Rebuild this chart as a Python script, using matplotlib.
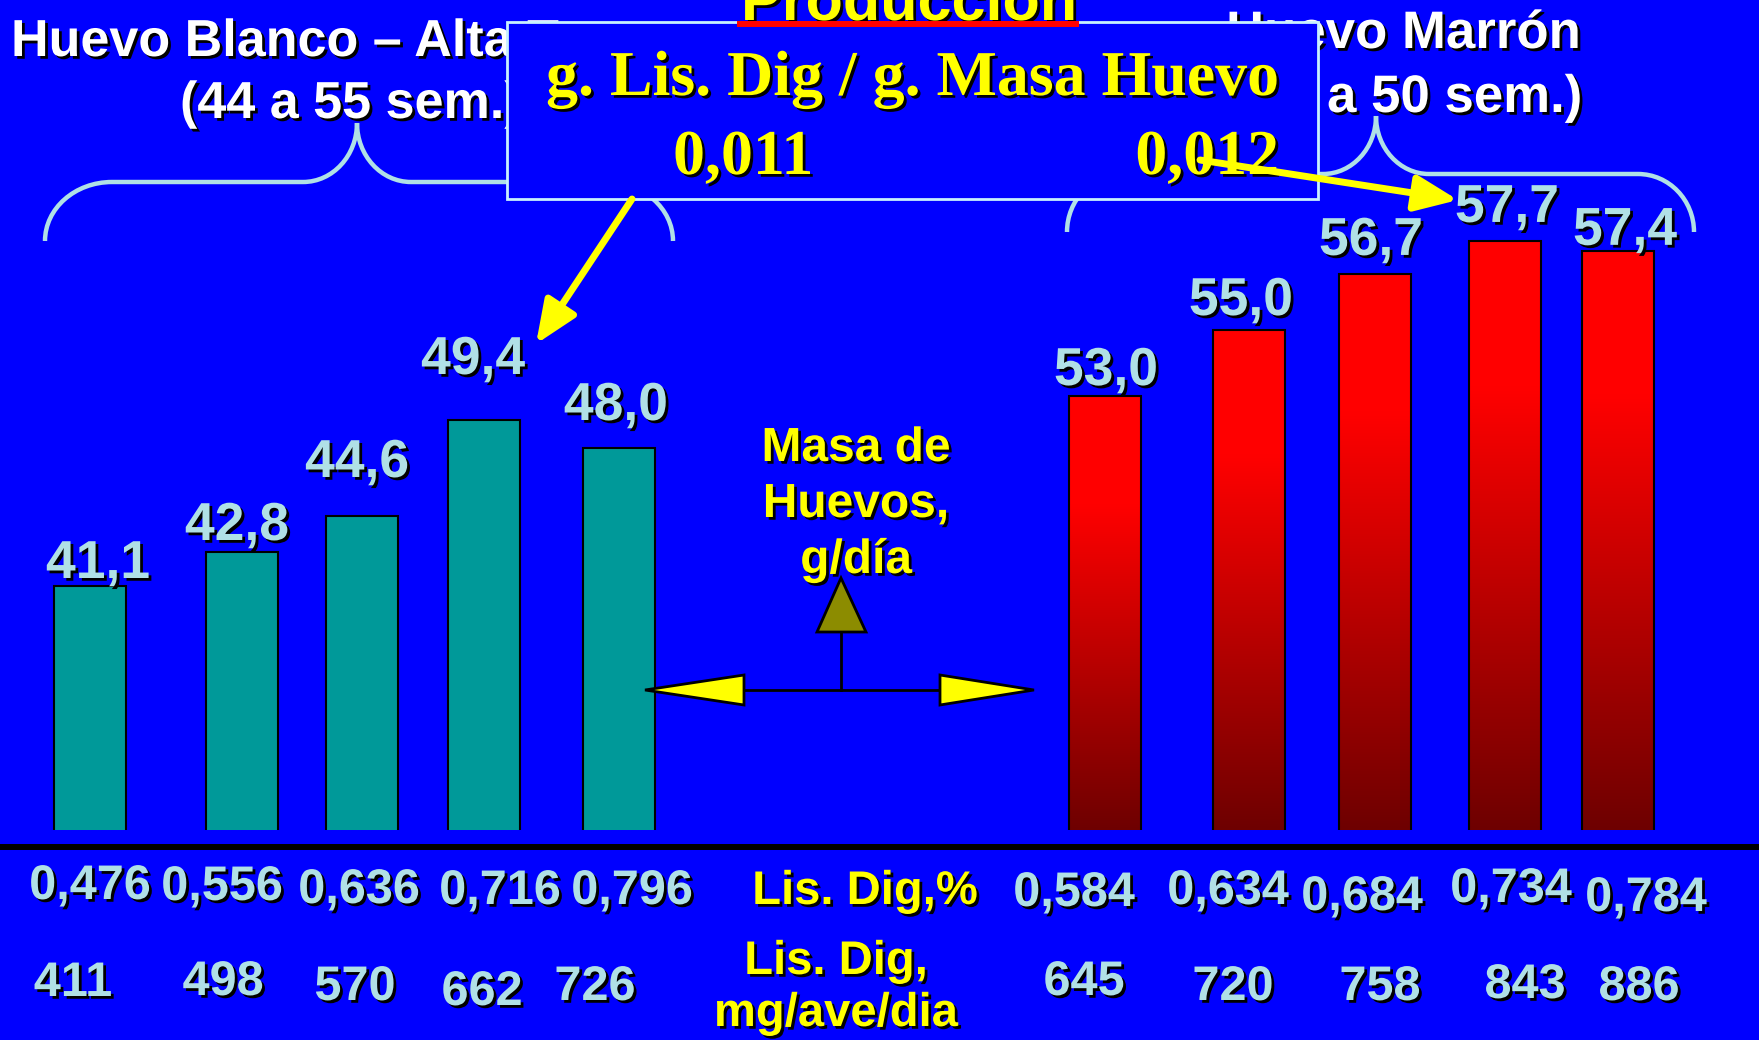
import numpy as np
import matplotlib
matplotlib.use("Agg")
import matplotlib.pyplot as plt
import matplotlib.patheffects as pe
from matplotlib.colors import LinearSegmentedColormap
from matplotlib.patches import Rectangle, Polygon, FancyArrowPatch, PathPatch
from matplotlib.path import Path

plt.rcParams['font.family'] = ['Liberation Sans', 'DejaVu Sans']
plt.rcParams['font.weight'] = 'bold'

# datos
masa_blanco = [41.1, 42.8, 44.6, 49.4, 48.0]      # g/dia, huevo blanco
masa_marron = [53.0, 55.0, 56.7, 57.7, 57.4]      # g/dia, huevo marron
lis_pct_blanco = [0.476, 0.556, 0.636, 0.716, 0.796]
lis_pct_marron = [0.584, 0.634, 0.684, 0.734, 0.784]
lis_mg_blanco = [411, 498, 570, 662, 726]
lis_mg_marron = [645, 720, 758, 843, 886]
ratio_lis_masa = [0.011, 0.012]

# layout (pixeles de la figura)
W, H = 1759, 1040
BASE = 830
x_blanco = [90, 242, 362, 484, 619]
x_marron = [1105, 1249, 1375, 1505, 1618]
bar_w = 72
off_blanco = [(8, 8), (-5, 12), (-5, 39), (-11, 46), (-3, 28)]
off_marron = [(1, 11), (-8, 15), (-4, 19), (2, 19), (7, 6)]
pct_x = [90, 222, 359, 500, 632, 1074, 1228, 1362, 1511, 1646]
pct_y = [899, 900, 903, 904, 904, 906, 904, 910, 902, 911]
mg_x = [73, 223, 355, 482, 595, 1084, 1233, 1380, 1525, 1639]
mg_y = [996, 995, 1000, 1005, 1000, 995, 1000, 1000, 998, 1000]

AZUL = '#0000FF'
CELESTE = '#B0E0E6'
AMARILLO = '#FFFF00'
sombra = [pe.withSimplePatchShadow(offset=(2, -2), shadow_rgbFace='black', alpha=1.0)]

def coma(v, d):
    return f"{v:.{d}f}".replace('.', ',')

fig = plt.figure(figsize=(W / 100, H / 100), dpi=100, facecolor=AZUL)

# dos escalas distintas, como en la diapositiva original
ax_w = fig.add_axes([0, (H - BASE) / H, 1, BASE / H], zorder=1)
ax_b = fig.add_axes([0, (H - BASE) / H, 1, BASE / H], zorder=1)
for a in (ax_w, ax_b):
    a.set_facecolor('none')
    a.axis('off')

ax_w.bar(x_blanco, masa_blanco, width=bar_w, bottom=0, color='#009999',
         edgecolor='black', linewidth=1.5, zorder=3)
ax_w.set_xlim(0, W)
ax_w.set_ylim(28.9, 28.9 + BASE / 20.0)

rojo = LinearSegmentedColormap.from_list('rojo', [(0, '#6E0000'), (0.75, '#FF0000'), (1, '#FF0000')])
grad = np.linspace(0, 1, 256).reshape(-1, 1)
bars = ax_b.bar(x_marron, masa_marron, width=bar_w, bottom=0, facecolor='none',
                edgecolor='black', linewidth=1.5, zorder=3)
yb0 = 39.85
for r in bars:
    x0 = r.get_x()
    im = ax_b.imshow(grad, extent=[x0, x0 + r.get_width(), yb0, r.get_height()],
                     origin='lower', cmap=rojo, aspect='auto', zorder=2)
    im.set_clip_path(r)
ax_b.set_xlim(0, W)
ax_b.set_ylim(yb0, yb0 + BASE / 33.0)

for a, xs, vals, offs in ((ax_w, x_blanco, masa_blanco, off_blanco),
                          (ax_b, x_marron, masa_marron, off_marron)):
    for x, v, (dx, dy) in zip(xs, vals, offs):
        a.annotate(coma(v, 1), (x, v), xytext=(dx, dy), textcoords='offset pixels',
                   ha='center', va='baseline', fontsize=38.5, color=CELESTE,
                   path_effects=sombra, zorder=5)

# capa de anotaciones en pixeles
ax = fig.add_axes([0, 0, 1, 1], zorder=2)
ax.set_xlim(0, W)
ax.set_ylim(H, 0)
ax.axis('off')

ax.plot([0, W], [847, 847], color='black', lw=4.3, solid_capstyle='butt')

# titulos
ax.text(11, 56, 'Huevo Blanco – Alta T', ha='left', va='baseline', fontsize=37.5,
        color='white', path_effects=sombra, zorder=2)
ax.text(180, 118, '(44 a 55 sem.)', ha='left', va='baseline', fontsize=37.5,
        color='white', path_effects=sombra, zorder=2)
ax.text(1580, 48, 'Huevo Marrón', ha='right', va='baseline', fontsize=38,
        color='white', path_effects=sombra, zorder=2)
ax.text(1582, 112, '(38 a 50 sem.)', ha='right', va='baseline', fontsize=38,
        color='white', path_effects=sombra, zorder=2)
ax.text(909, 20, 'Producción', ha='center', va='baseline', fontsize=44,
        color=AMARILLO, path_effects=sombra, zorder=2)

# llaves
k = 0.5523
def llave(x0, x1, xc, yh, yend, ytop, rx, rc):
    verts = [(x0, yend), (x0, yend - k * (yend - yh)), (x0 + rx - k * rx, yh), (x0 + rx, yh),
             (xc - rc, yh),
             (xc - rc + k * rc, yh), (xc, ytop + k * (yh - ytop)), (xc, ytop),
             (xc, ytop + k * (yh - ytop)), (xc + rc - k * rc, yh), (xc + rc, yh),
             (x1 - rx, yh),
             (x1 - rx + k * rx, yh), (x1, yend - k * (yend - yh)), (x1, yend)]
    codes = [Path.MOVETO, Path.CURVE4, Path.CURVE4, Path.CURVE4, Path.LINETO,
             Path.CURVE4, Path.CURVE4, Path.CURVE4, Path.CURVE4, Path.CURVE4, Path.CURVE4,
             Path.LINETO, Path.CURVE4, Path.CURVE4, Path.CURVE4]
    ax.add_patch(PathPatch(Path(verts, codes), facecolor='none', edgecolor=CELESTE,
                           lw=3.2, zorder=3))

llave(45, 673, 357, 182, 241, 123, 67, 54)
llave(1067, 1694, 1376, 174, 232, 116, 56, 53)

# recuadro
ax.add_patch(Rectangle((507, 22), 811, 177, facecolor=AZUL, edgecolor='#C8F0FF',
                       lw=2, zorder=4))
ax.plot([737, 1079], [24, 24], color='red', lw=4.3, solid_capstyle='butt', zorder=5)
serif = ['Liberation Serif', 'DejaVu Serif']
ax.text(912, 95, 'g. Lis. Dig / g. Masa Huevo', ha='center', va='baseline',
        fontsize=46, family=serif, color=AMARILLO, path_effects=sombra, zorder=5)
for xc, v in zip([743, 1207], ratio_lis_masa):
    ax.text(xc, 174, coma(v, 3), ha='center', va='baseline', fontsize=46, family=serif,
            color=AMARILLO, path_effects=sombra, zorder=5)

# flechas amarillas
for p0, p1 in (((632, 199), (536, 344)), ((1200, 160), (1458, 200))):
    ax.add_patch(FancyArrowPatch(p0, p1, arrowstyle='-|>,head_length=2.6,head_width=1.1',
                                 mutation_scale=10, color=AMARILLO, lw=5,
                                 shrinkA=0, shrinkB=0, zorder=6))

# cruz central
ax.plot([744, 940], [690, 690], color='black', lw=2, zorder=3)
ax.plot([841, 841], [690, 632], color='black', lw=2, zorder=3)
ax.add_patch(Polygon([(645, 690), (744, 675), (744, 705)], closed=True, facecolor=AMARILLO,
                     edgecolor='black', lw=2, zorder=4))
ax.add_patch(Polygon([(1034, 690), (940, 675), (940, 705)], closed=True, facecolor=AMARILLO,
                     edgecolor='black', lw=2, zorder=4))
ax.add_patch(Polygon([(841, 578), (817, 632), (866, 632)], closed=True, facecolor='#8C8C00',
                     edgecolor='black', lw=2, zorder=4))

for yb, t in zip([461, 517, 573], ['Masa de', 'Huevos,', 'g/día']):
    ax.text(856, yb, t, ha='center', va='baseline', fontsize=34.5, color=AMARILLO,
            path_effects=sombra, zorder=5)

# filas inferiores
for x, y, v in zip(pct_x, pct_y, lis_pct_blanco + lis_pct_marron):
    ax.text(x, y, coma(v, 3), ha='center', va='baseline', fontsize=35, color=CELESTE,
            path_effects=sombra)
for x, y, v in zip(mg_x, mg_y, lis_mg_blanco + lis_mg_marron):
    ax.text(x, y, str(v), ha='center', va='baseline', fontsize=35, color=CELESTE,
            path_effects=sombra)
ax.text(865, 904, 'Lis. Dig,%', ha='center', va='baseline', fontsize=34, color=AMARILLO,
        path_effects=sombra)
ax.text(836, 974, 'Lis. Dig,', ha='center', va='baseline', fontsize=34, color=AMARILLO,
        path_effects=sombra)
ax.text(836, 1026, 'mg/ave/dia', ha='center', va='baseline', fontsize=34, color=AMARILLO,
        path_effects=sombra)

fig.savefig('out.png', dpi=100, facecolor=AZUL)
